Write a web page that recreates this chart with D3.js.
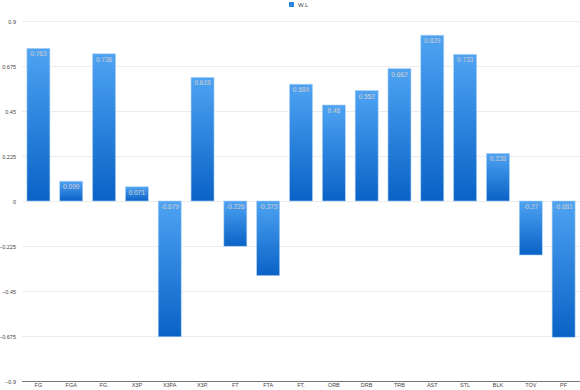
<!DOCTYPE html>
<html>
<head>
<meta charset="utf-8">
<script src="https://cdn.jsdelivr.net/npm/d3@7"></script>
<style>
  body { margin: 0; background: #fff; }
  text { font-family: "Liberation Sans", Arial, sans-serif; }
</style>
</head>
<body>
<div id="chart"></div>
<script>
var width = 580, height = 390;
var margin = {top: 21, right: 0, bottom: 9, left: 22};

var categories = ["FG", "FGA", "FG.", "X3P", "X3PA", "X3P.", "FT", "FTA", "FT.",
                  "ORB", "DRB", "TRB", "AST", "STL", "BLK", "TOV", "PF"];
var values = [0.763, 0.099, 0.736, 0.071, -0.679, 0.618, -0.226, -0.373, 0.584,
              0.48, 0.552, 0.662, 0.829, 0.733, 0.238, -0.27, -0.681];
var tickValues = [-0.9, -0.675, -0.45, -0.225, 0, 0.225, 0.45, 0.675, 0.9];
var seriesName = "W.L";

var svg = d3.select("#chart")
  .append("svg")
    .attr("width", width)
    .attr("height", height);

var defs = svg.append("defs");
var grad = defs.append("linearGradient")
    .attr("id", "barGrad")
    .attr("x1", 0).attr("y1", 0).attr("x2", 0).attr("y2", 1);
grad.append("stop").attr("offset", "0%").attr("stop-color", "#4ea3f2");
grad.append("stop").attr("offset", "100%").attr("stop-color", "#0a62c6");

var x = d3.scaleBand()
    .domain(categories)
    .range([margin.left, width - margin.right])
    .paddingInner(0.3)
    .paddingOuter(0.15);

var y = d3.scaleLinear()
    .domain([-0.9, 0.9])
    .range([height - margin.bottom, margin.top]);

// grid
svg.append("g")
  .selectAll("line")
  .data(tickValues)
  .enter().append("line")
    .attr("x1", margin.left)
    .attr("x2", width - margin.right)
    .attr("y1", function(d) { return y(d) + 0.5; })
    .attr("y2", function(d) { return y(d) + 0.5; })
    .attr("stroke", function(d) { return d === -0.9 ? "#777" : "#ececec"; })
    .attr("stroke-width", 1);

// y tick labels
svg.append("g")
  .selectAll("text")
  .data(tickValues)
  .enter().append("text")
    .attr("x", 16)
    .attr("y", function(d) { return y(d) + 2.5; })
    .attr("text-anchor", "end")
    .attr("font-size", 5.5)
    .attr("fill", "#444")
    .text(function(d) { return d3.format("")(d); });

// x axis labels
var xAxis = d3.axisBottom(x).tickSize(0).tickPadding(2);
var gx = svg.append("g")
    .attr("transform", "translate(0," + (height - margin.bottom) + ")")
    .call(xAxis);
gx.select(".domain").remove();
gx.selectAll("text")
    .attr("font-size", 5.5)
    .attr("fill", "#444")
    .attr("font-family", "Liberation Sans, Arial, sans-serif");

// bars
var bars = svg.append("g")
  .selectAll("g")
  .data(values)
  .enter().append("g");

bars.append("rect")
    .attr("x", function(d, i) { return x(categories[i]); })
    .attr("y", function(d) { return y(Math.max(0, d)); })
    .attr("width", x.bandwidth())
    .attr("height", function(d) { return Math.abs(y(d) - y(0)); })
    .attr("fill", "url(#barGrad)")
    .attr("stroke", "#a8d0f5")
    .attr("stroke-width", 0.6);

bars.append("text")
    .attr("x", function(d, i) { return x(categories[i]) + x.bandwidth() / 2; })
    .attr("y", function(d) { return y(Math.max(0, d)) + 8; })
    .attr("text-anchor", "middle")
    .attr("font-size", 6.5)
    .attr("fill", "#fff")
    .attr("stroke", "rgba(0,40,100,0.25)")
    .attr("stroke-width", 0.4)
    .text(function(d) { return String(d); });

// legend
var legend = svg.append("g").attr("transform", "translate(289,2)");
legend.append("rect")
    .attr("width", 5).attr("height", 5)
    .attr("fill", "#2b86e0");
legend.append("text")
    .attr("x", 9).attr("y", 5)
    .attr("font-size", 6)
    .attr("fill", "#444")
    .text(seriesName);
</script>
</body>
</html>
